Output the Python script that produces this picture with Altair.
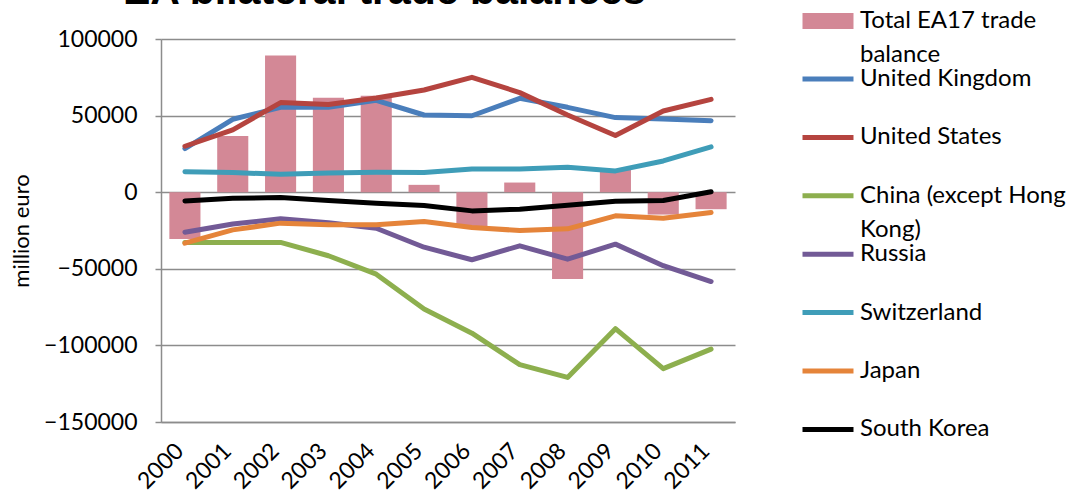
import altair as alt
import pandas as pd

# Euro-area bilateral trade balances, million euro
years = [str(y) for y in range(2000, 2012)]
total_ea17 = [-30500, 36700, 89300, 61700, 63000, 4800, -22000, 6300, -56700, 15000, -14600, -11100]
united_kingdom = [28500, 47600, 55400, 55400, 60000, 50400, 49900, 61300, 55400, 48700, 47800, 46700]
united_states = [30000, 40700, 58500, 57200, 61500, 66700, 75000, 65000, 50400, 37000, 53000, 60600]
china = [-32800, -32800, -32800, -41500, -53500, -76300, -92000, -112600, -120900, -89100, -115200, -102400]
russia = [-26100, -20700, -17400, -20000, -23500, -35900, -44100, -35000, -43700, -33900, -48000, -58300]
switzerland = [13300, 12800, 11700, 12600, 13000, 12800, 15200, 15200, 16300, 13900, 20400, 29600]
japan = [-33300, -24600, -20200, -21300, -21300, -19100, -23000, -25000, -23900, -15400, -17000, -13300]
south_korea = [-5700, -3900, -3500, -5400, -7200, -8700, -12200, -11100, -8500, -5900, -5400, 300]

partners = ["United Kingdom", "United States", "China (except Hong Kong)", "Russia",
            "Switzerland", "Japan", "South Korea"]
partner_values = [united_kingdom, united_states, china, russia, switzerland, japan, south_korea]
partner_colors = ["#4A7EBB", "#B5443F", "#8DAF4E", "#725A96", "#3F9DB8", "#E5843A", "#000000"]

bar_label = "Total EA17 trade balance"
bar_color = "#D38896"

FONT = "Lato"
GRID = "#8C8C8C"
LINE_HEIGHT = 34

bars_df = pd.DataFrame({"year": years, "value": total_ea17, "series": bar_label})
lines_df = pd.DataFrame(
    [{"year": y, "value": v, "partner": p}
     for p, vals in zip(partners, partner_values)
     for y, v in zip(years, vals)]
)

# Small nominal symbol size keeps legend rows compact; the custom paths reach
# beyond the unit box to draw wide swatches (scale = sqrt(size) / 2 = 9.5 px).
SYMBOL_SIZE = 361
rect_path = "M-2.684,-0.842H2.684V0.842H-2.684Z"
stroke_path = "M-2.684,0H2.684"

x_enc = alt.X(
    "year:N",
    sort=years,
    scale=alt.Scale(paddingInner=0.35, paddingOuter=0.175),
    axis=alt.Axis(
        title=None, labelAngle=315, labelAlign="right", labelBaseline="middle",
        labelPadding=25, labelOffset=-5, ticks=False, domainColor=GRID, domainWidth=1.5,
        labelFont=FONT, labelFontSize=23, labelColor="#000000",
    ),
)
y_scale = alt.Scale(domain=[-150000, 100000], nice=False, zero=False)
y_axis = alt.Axis(
    title="million euro", values=[-150000, -100000, -50000, 0, 50000, 100000],
    format="d", grid=True, gridColor=GRID, gridWidth=1.5,
    domainColor=GRID, domainWidth=1.5, tickColor=GRID, tickSize=6, tickWidth=1.5,
    labelPadding=18, labelFont=FONT, labelFontSize=23, labelColor="#000000",
    titleFont=FONT, titleFontSize=22, titleFontWeight="normal", titleColor="#000000",
    titlePadding=10,
)

legend_common = dict(
    title=None, orient="none", padding=0, rowPadding=0.4,
    symbolSize=SYMBOL_SIZE, symbolOpacity=1,
    labelFont=FONT, labelFontSize=24, labelColor="#000000",
    labelBaseline="middle", labelOffset=20, labelLimit=400,
)

bars = alt.Chart(bars_df).mark_bar().encode(
    x=x_enc,
    y=alt.Y("value:Q", scale=y_scale, axis=y_axis),
    fill=alt.Fill(
        "series:N",
        scale=alt.Scale(domain=[bar_label], range=[bar_color]),
        legend=alt.Legend(
            legendX=655, legendY=-30, symbolType=rect_path, symbolStrokeWidth=0,
            labelExpr="['Total EA17 trade', 'balance']",
            **legend_common,
        ),
    ),
)

lines = alt.Chart(lines_df).mark_line(
    strokeWidth=5, strokeCap="round", strokeJoin="round"
).encode(
    x=alt.X("year:N", sort=years),
    y=alt.Y("value:Q", scale=y_scale),
    stroke=alt.Stroke(
        "partner:N",
        sort=partners,
        scale=alt.Scale(domain=partners, range=partner_colors),
        legend=alt.Legend(
            legendX=655, legendY=28, symbolType=stroke_path, symbolStrokeWidth=5,
            labelExpr=("datum.label == 'China (except Hong Kong)' ? "
                       "['China (except Hong', 'Kong)'] : [datum.label, '']"),
            **legend_common,
        ),
    ),
)

chart = (
    alt.layer(bars, lines)
    .resolve_legend(fill="independent", stroke="independent")
    .properties(
        width=574,
        height=383,
        autosize=alt.AutoSizeParams(type="none"),
        padding={"left": 161, "top": 39, "right": 341, "bottom": 77},
        title=alt.TitleParams(
            "EA bilateral trade balances", anchor="start", frame="group",
            font="Liberation Sans", fontSize=41, fontWeight="bold", color="#000000",
            baseline="alphabetic", offset=0, dx=-38, dy=36,
        ),
    )
    .configure(style={"guide-label": {"lineHeight": LINE_HEIGHT}})
    .configure_view(strokeWidth=0)
)

chart.save("out.html", embed_options={"renderer": "svg", "actions": False})
